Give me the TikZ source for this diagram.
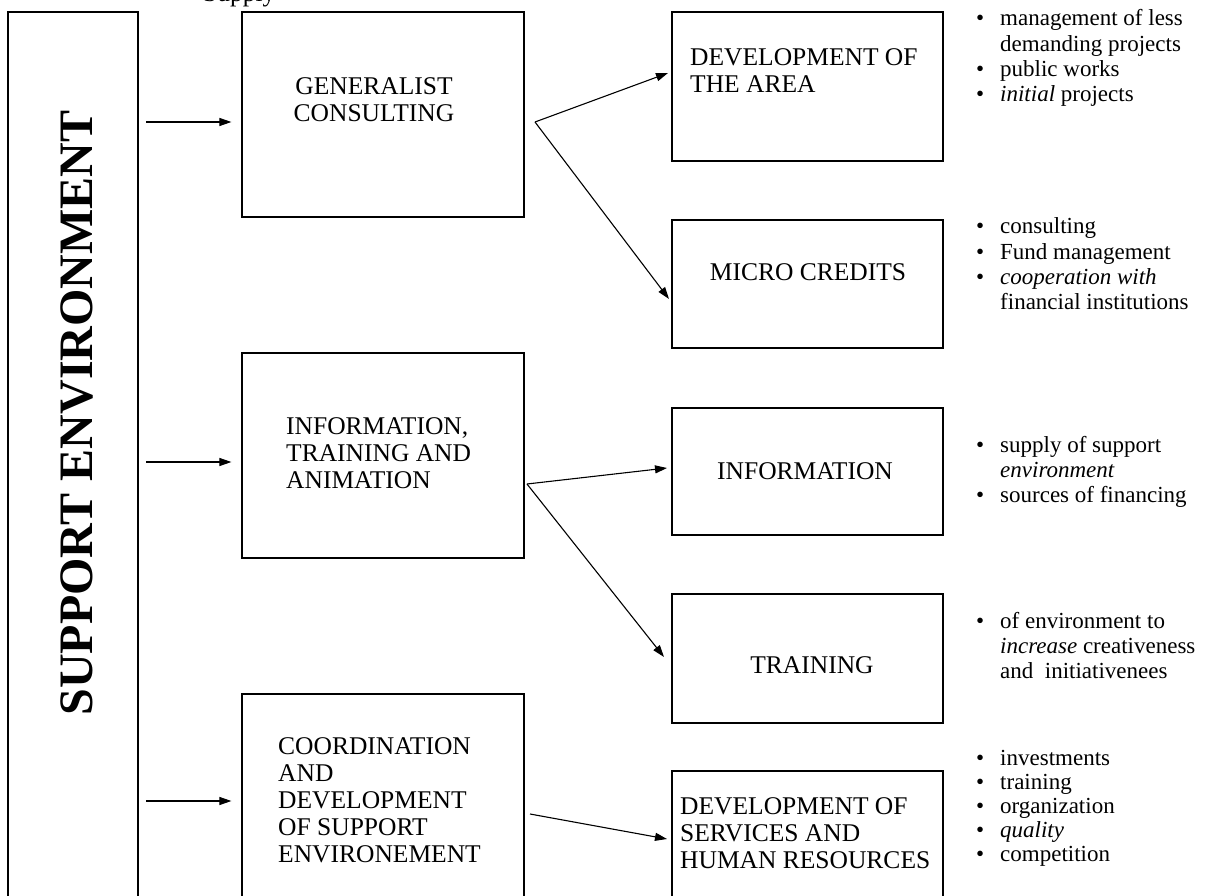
\documentclass[tikz,border=0pt]{standalone}
\usepackage{fontspec}
\setmainfont{Liberation Serif}
\usetikzlibrary{arrows.meta}
\newcommand{\boxfont}{\fontsize{25.5}{27}\selectfont}
\newcommand{\bulfont}{\fontsize{23}{25.3}\selectfont}
\newcommand{\bulfontb}{\fontsize{23}{24}\selectfont}
\newcommand{\tl}[1]{\begin{tabular}[t]{@{}l@{}}#1\end{tabular}}
\newcommand{\tc}[1]{\begin{tabular}[t]{@{}c@{}}#1\end{tabular}}
\newcommand{\bu}{\makebox[24pt][l]{\textbullet}}
\newcommand{\ind}{\hspace*{24pt}}
\tikzset{
  box/.style={draw, line width=1.2pt, inner sep=0pt, minimum width=271pt},
  wbox/.style={box, minimum width=282pt},
  txt/.style={inner sep=0pt, font=\boxfont, anchor=base west},
  ctxt/.style={inner sep=0pt, font=\boxfont, anchor=base},
  bul/.style={inner sep=0pt, font=\bulfont, anchor=base west},
  arr/.style={line width=1.1pt, -{Triangle[length=12pt,width=8pt]}},
  ln/.style={line width=1.1pt}
}
\begin{document}
\begin{tikzpicture}[x=1pt,y=-1pt]
\useasboundingbox (0,0) rectangle (1205,896);
\clip (0,0) rectangle (1205,896);
\fill[white] (0,0) rectangle (1205,896);

% cropped caption fragment at the top
\node[txt] (cap) at (203,2) {Supply};

% left column
\node[box, minimum width=130pt, minimum height=908pt] (env) at (73,466) {};
\node[inner sep=0pt, rotate=90, anchor=base, font=\fontsize{48}{50}\selectfont\bfseries] (envt) at (92,413) {SUPPORT ENVIRONMENT};

% middle column
\node[wbox, minimum height=205pt] (gc) at (383,114.5) {};
\node[ctxt] (gct) at (374,95) {\tc{GENERALIST\\CONSULTING}};

\node[wbox, minimum height=205pt] (ita) at (383,455.5) {};
\node[txt] (itat) at (286,434) {\tl{INFORMATION,\\TRAINING AND\\ANIMATION}};

\node[wbox, minimum height=226pt] (cds) at (383,807) {};
\node[txt] (cdst) at (278,754) {\tl{COORDINATION\\AND\\DEVELOPMENT\\OF SUPPORT\\ENVIRONEMENT}};

% right column
\node[box, minimum height=149pt] (dev) at (807.5,86.5) {};
\node[txt] (devt) at (690,66) {\tl{DEVELOPMENT OF\\THE AREA}};

\node[box, minimum height=128pt] (mic) at (807.5,284) {};
\node[ctxt] (mict) at (808,280) {MICRO CREDITS};

\node[box, minimum height=127pt] (inf) at (807.5,471.5) {};
\node[ctxt] (inft) at (805,479) {INFORMATION};

\node[box, minimum height=129pt] (trn) at (807.5,658.5) {};
\node[ctxt] (trnt) at (812,673) {TRAINING};

\node[box, minimum height=149pt] (srv) at (807.5,845.5) {};
\node[txt] (srvt) at (680,814) {\tl{DEVELOPMENT OF\\SERVICES AND\\HUMAN RESOURCES}};

% bullet lists
\node[bul] (l1) at (976,26) {\tl{\bu management of less\\\ind demanding projects\\\bu public works\\\bu \textit{initial} projects}};
\node[bul] (l2) at (976,234) {\tl{\bu consulting\\\bu Fund management\\\bu \textit{cooperation with}\\\ind financial institutions}};
\node[bul] (l3) at (976,452) {\tl{\bu supply of support\\\ind \textit{environment}\\\bu sources of financing}};
\node[bul] (l4) at (976,628) {\tl{\bu of environment to\\\ind \textit{increase} creativeness\\\ind and\ \ initiativenees}};
\node[bul, font=\bulfontb] (l5) at (976,765) {\tl{\bu investments\\\bu training\\\bu organization\\\bu \textit{quality}\\\bu competition}};

% connector points
\coordinate (s1) at (146,122);
\coordinate (s2) at (146,462);
\coordinate (s3) at (146,801);
\coordinate (b1) at (535,122);
\coordinate (b2) at (527,484);
\coordinate (b3) at (530,814);
\coordinate (t1) at (668,73);
\coordinate (t2) at (669,299);
\coordinate (t3) at (667,468);
\coordinate (t4) at (664,657);
\coordinate (t5) at (667,839);

% connectors
\draw[arr] (s1) -- ([xshift=-10pt]s1 -| gc.west);
\draw[arr] (s2) -- ([xshift=-10pt]s2 -| ita.west);
\draw[arr] (s3) -- ([xshift=-10pt]s3 -| cds.west);
\draw[arr] (b1) -- (t1);
\draw[arr] (b1) -- (t2);
\draw[arr] (b2) -- (t3);
\draw[arr] (b2) -- (t4);
\draw[arr] (b3) -- (t5);
\end{tikzpicture}
\end{document}
